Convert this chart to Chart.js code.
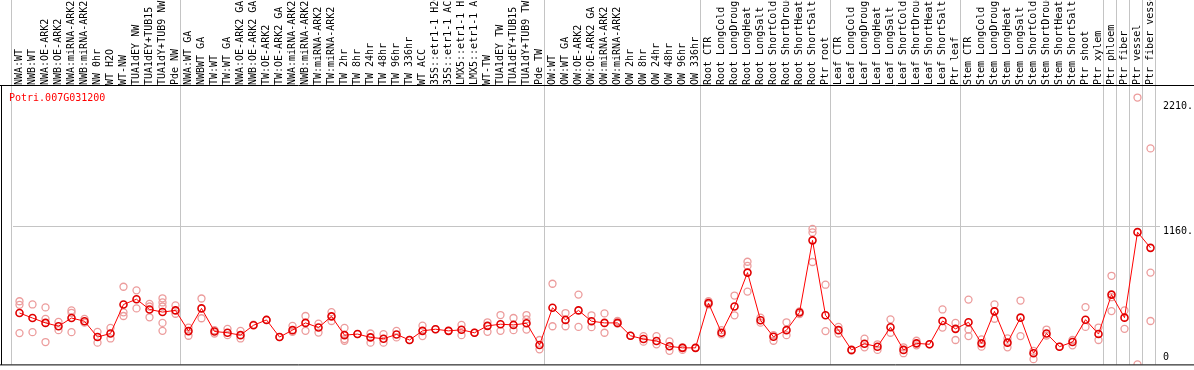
<!DOCTYPE html>
<html><head><meta charset="utf-8">
<script src="https://cdn.jsdelivr.net/npm/chart.js@4/dist/chart.umd.min.js"></script>
<style>html,body{margin:0;padding:0;background:#fff}canvas{display:block}</style>
</head><body>
<canvas id="c" width="1194" height="370"></canvas>
<script>
const geneTitle = 'Potri.007G031200';

const categories = [
  'NWA:WT','NWB:WT','NWA:OE-ARK2','NWB:OE-ARK2','NWA:miRNA-ARK2','NWB:miRNA-ARK2','NW 0hr','WT H2O','WT-NW','TUA1dEY NW','TUA1dEY+TUB15','TUA1dY+TUB9 NW','Pde NW',
  'NWA:WT GA','NWBWT GA','TW:WT','TW:WT GA','NWA:OE-ARK2 GA','NWB:OE-ARK2 GA','TW:OE-ARK2','TW:OE-ARK2 GA','NWA:miRNA-ARK2','NWB:miRNA-ARK2','TW:miRNA-ARK2','TW:miRNA-ARK2',
  'TW 2hr','TW 8hr','TW 24hr','TW 48hr','TW 96hr','TW 336hr','WT ACC','35S::etr1-1 H2O','35S::etr1-1 ACC','LMX5::etr1-1 H2O','LMX5::etr1-1 ACC','WT-TW','TUA1dEY TW','TUA1dEY+TUB15','TUA1dY+TUB9 TW','Pde TW',
  'OW:WT','OW:WT GA','OW:OE-ARK2','OW:OE-ARK2 GA','OW:miRNA-ARK2','OW:miRNA-ARK2','OW 2hr','OW 8hr','OW 24hr','OW 48hr','OW 96hr','OW 336hr',
  'Root CTR','Root LongCold','Root LongDrought','Root LongHeat','Root LongSalt','Root ShortCold','Root ShortDrought','Root ShortHeat','Root ShortSalt','Ptr root',
  'Leaf CTR','Leaf LongCold','Leaf LongDrought','Leaf LongHeat','Leaf LongSalt','Leaf ShortCold','Leaf ShortDrought','Leaf ShortHeat','Leaf ShortSalt','Ptr leaf',
  'Stem CTR','Stem LongCold','Stem LongDrought','Stem LongHeat','Stem LongSalt','Stem ShortCold','Stem ShortDrought','Stem ShortHeat','Stem ShortSalt','Ptr shoot','Ptr xylem',
  'Ptr phloem','Ptr fiber','Ptr vessel','Ptr fiber vessel'
];

const meanValues = [
  432,390,349,321,390,363,230,260,504,548,462,440,454,
  280,471,277,266,246,329,374,230,288,349,310,404,
  246,255,227,216,252,205,282,296,282,291,266,324,338,332,346,163,
  476,374,454,363,349,349,241,213,197,152,139,139,
  515,266,487,772,371,232,288,437,1043,413,
  288,122,174,149,313,122,177,169,365,299,
  354,177,446,183,393,94,260,149,188,376,255,
  587,393,1112,980
];

const replicateValues = [
  [531,501,263],[504,271],[479,382,188],[357,288],[454,434,271],[382,351],[274,183],[307,218],[653,438,407],[623,471],[509,487,396],[556,521,487,349,282],[496,426],
  [310,241],[554,388],[288,260],[299,246],[282,218],[335],[374],[230],[324,274],[407,282],[343,268],[440,365],
  [307,213,199],[255],[260,183],[255,183],[282,227],[205],[326,238],[296],[282],[332,246],[266],[354,274],[415,282],[390,288],[415,379,293],[205,127],
  [678,321],[432,321],[587,315],[413,313],[429,266],[365,343],[241],[238,191],[238,169],[193,114],[144,122],[139],
  [531,504],[288,252],[579,413],[863,828,612],[393,351],[246,199],[354,246],[446,423],[1140,1110,861],[670,280],
  [315,260],[116],[216,144],[169,122],[379,266],[144,94],[199,160],[169],[462,310],[349,205],
  [545,293,238],[210,149],[504,384],[218,144],[537,238],[114,44],[293,243],[149],[205,160],[482,315],[310,205],
  [745,565,448],[454,299],[2244,0],[1816,772,365]
];

const yTickValues = [0, 1160, 2210];
const yMax = 2341;
const groupEnds = [-1, 12, 40, 52, 62, 72, 83, 84, 85, 86, 87];

const maxReps = Math.max(...replicateValues.map(r => r.length));
const replicateSeries = [];
for (let j = 0; j < maxReps; j++) {
  replicateSeries.push(replicateValues.map(r => (r[j] === undefined ? null : r[j])));
}

const FONT = 'DejaVu Sans Mono';

const framePlugin = {
  id: 'frame',
  beforeDatasetsDraw(chart) {
    const ctx = chart.ctx, xs = chart.scales.x, a = chart.chartArea;
    ctx.save();
    ctx.strokeStyle = '#c4c4c4';
    ctx.lineWidth = 1;
    groupEnds.forEach(i => {
      const x = (i < 0 ? xs.getPixelForValue(0) - 8 : xs.getPixelForValue(i) + 5);
      const px = Math.round(x - 0.5) + 0.5;
      ctx.beginPath();
      ctx.moveTo(px, 0);
      ctx.lineTo(px, a.bottom);
      ctx.stroke();
    });
    ctx.fillStyle = '#ff0000';
    ctx.font = '10px "' + FONT + '"';
    ctx.textBaseline = 'middle';
    ctx.textAlign = 'left';
    ctx.fillText(geneTitle, 9, a.top + 12);
    ctx.restore();
  },
  afterDatasetsDraw(chart) {
    const ctx = chart.ctx, a = chart.chartArea;
    ctx.save();
    ctx.strokeStyle = '#000';
    ctx.lineWidth = 1;
    ctx.beginPath();
    ctx.moveTo(0, a.top - 0.5); ctx.lineTo(chart.width, a.top - 0.5);
    ctx.moveTo(0, a.bottom + 0.5); ctx.lineTo(chart.width, a.bottom + 0.5);
    ctx.moveTo(1.5, a.top - 0.5); ctx.lineTo(1.5, a.bottom + 0.5);
    ctx.stroke();
    ctx.restore();
  }
};

Chart.defaults.font.family = FONT;
Chart.defaults.font.size = 10;
Chart.defaults.color = '#000';

const datasets = [{
  label: 'mean',
  data: meanValues,
  borderColor: '#ff0000',
  borderWidth: 1,
  pointRadius: 3.5,
  pointBorderWidth: 1.6,
  pointBorderColor: '#e00000',
  pointBackgroundColor: 'rgba(0,0,0,0)',
  tension: 0,
  order: 0
}];
replicateSeries.forEach((s, j) => datasets.push({
  label: 'replicate ' + (j + 1),
  data: s,
  showLine: false,
  pointRadius: 3.5,
  pointBorderWidth: 1.3,
  pointBorderColor: '#ec9c9c',
  pointBackgroundColor: 'rgba(0,0,0,0)',
  order: 1
}));

new Chart(document.getElementById('c'), {
  type: 'line',
  data: { labels: categories, datasets },
  options: {
    responsive: false,
    animation: false,
    devicePixelRatio: 1,
    layout: { padding: { left: 13, right: 0, top: 0, bottom: 2 } },
    plugins: { legend: { display: false }, tooltip: { enabled: false }, title: { display: false } },
    scales: {
      x: {
        type: 'category',
        position: 'top',
        offset: true,
        grid: { display: false },
        border: { display: false },
        ticks: { autoSkip: false, minRotation: 90, maxRotation: 90, padding: -7, labelOffset: 12, color: '#000', font: { family: FONT, size: 10 } },
        afterFit(scale) { scale.height = 86; scale.paddingLeft = 0; scale.paddingRight = 0; }
      },
      y: {
        position: 'right',
        min: 0,
        max: yMax,
        border: { display: false },
        grid: {
          drawTicks: true,
          tickLength: 3,
          color: (c) => (c.tick && c.tick.value === 1160) ? '#c4c4c4' : 'rgba(0,0,0,0)'
        },
        afterBuildTicks(scale) { scale.ticks = yTickValues.map(v => ({ value: v })); },
        ticks: {
          padding: 3,
          labelOffset: 5,
          color: '#000',
          font: { family: FONT, size: 10 },
          callback: (v) => v === 0 ? ['0', '', ''] : v + '.'
        },
        afterFit(scale) { scale.width = 37; scale.paddingTop = 0; scale.paddingBottom = 0; }
      }
    }
  },
  plugins: [framePlugin]
});
</script>
</body></html>
